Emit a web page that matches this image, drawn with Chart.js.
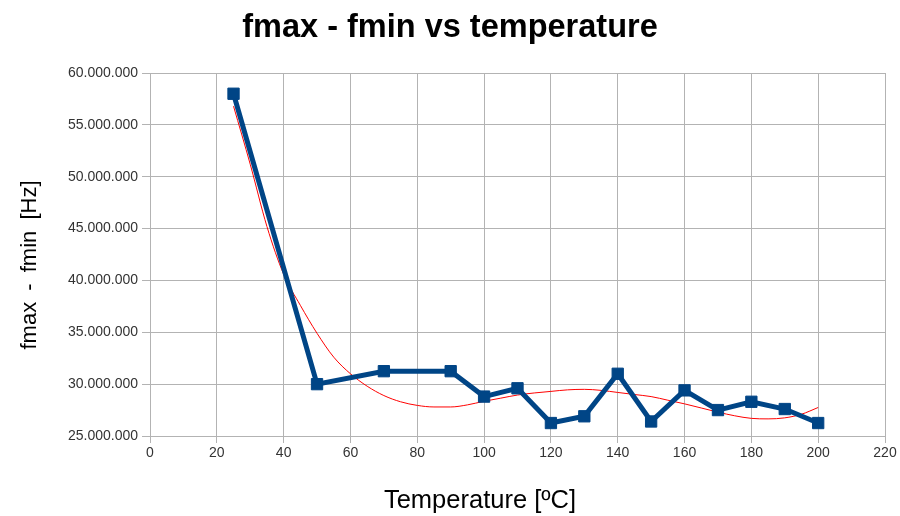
<!DOCTYPE html>
<html>
<head>
<meta charset="utf-8">
<script src="https://cdn.jsdelivr.net/npm/chart.js@4/dist/chart.umd.min.js"></script>
<style>
  html, body { margin: 0; padding: 0; background: #ffffff; }
  #wrap { width: 900px; height: 516px; }
</style>
</head>
<body>
<div id="wrap"><canvas id="c" width="900" height="516"></canvas></div>
<script>
// Measured series (temperature in °C, fmax - fmin in Hz)
const temperatures = [25, 50, 70, 90, 100, 110, 120, 130, 140, 150, 160, 170, 180, 190, 200];
const deltaF = [58000000, 30000000, 31250000, 31250000, 28800000, 29600000, 26250000, 26900000,
                31000000, 26400000, 29400000, 27500000, 28300000, 27600000, 26250000];

// Trend line (red)
const trendTemps = [25, 30, 35, 40, 45, 50, 55, 60, 65, 70, 75, 80, 85, 90, 95, 100, 105, 110, 115,
                    120, 125, 130, 135, 140, 145, 150, 155, 160, 165, 170, 175, 180, 185, 190, 195, 200];
const trendValues = [56800000, 51200000, 45200000, 40600000, 37600000, 34900000, 32600000, 31000000,
                     29800000, 28900000, 28300000, 27950000, 27800000, 27800000, 28000000, 28350000,
                     28650000, 28950000, 29150000, 29300000, 29450000, 29500000, 29400000, 29200000,
                     29000000, 28800000, 28450000, 28100000, 27700000, 27300000, 26950000, 26700000,
                     26650000, 26750000, 27100000, 27750000];

// Axis settings
const xTicks = { min: 0, max: 220, step: 20 };
const yTicks = { min: 25000000, max: 60000000, step: 5000000 };

const titleText = 'fmax - fmin vs temperature';
const xTitle = 'Temperature [ºC]';
const yTitle = 'fmax - fmin [Hz]';

function dotted(v) {
  const s = Math.round(v).toString();
  return s.replace(/\B(?=(\d{3})+(?!\d))/g, '.');
}

const mainPoints = temperatures.map((t, i) => ({ x: t, y: deltaF[i] }));
const trendPoints = trendTemps.map((t, i) => ({ x: t, y: trendValues[i] }));

const FONT = '"Liberation Sans", Arial, sans-serif';
const gridColor = '#b3b3b3';

// Axis titles placed as in the reference (centred on the whole drawing, not on the plot area)
const axisTitles = {
  id: 'axisTitles',
  afterDraw(chart) {
    const ctx = chart.ctx;
    ctx.save();
    ctx.fillStyle = '#000000';
    ctx.textAlign = 'center';
    ctx.textBaseline = 'alphabetic';
    ctx.font = '25.5px ' + FONT;
    ctx.fillText(xTitle, 480, 508);
    ctx.translate(36, 265);
    ctx.rotate(-Math.PI / 2);
    ctx.font = '22px ' + FONT;
    try { ctx.wordSpacing = '5px'; } catch (e) {}
    ctx.fillText(yTitle, 0, 0);
    ctx.restore();
  }
};

new Chart(document.getElementById('c'), {
  type: 'line',
  data: {
    datasets: [
      {
        label: 'trend',
        data: trendPoints,
        borderColor: '#ff0000',
        borderWidth: 1,
        pointRadius: 0,
        fill: false,
        cubicInterpolationMode: 'monotone',
        order: 2
      },
      {
        label: 'fmax - fmin',
        data: mainPoints,
        borderColor: '#004586',
        backgroundColor: '#004586',
        borderWidth: 5,
        pointStyle: 'rect',
        pointRadius: 8,
        pointBorderWidth: 1,
        pointBorderColor: '#004586',
        pointBackgroundColor: '#004586',
        tension: 0,
        fill: false,
        order: 1
      }
    ]
  },
  plugins: [axisTitles],
  options: {
    responsive: false,
    animation: false,
    devicePixelRatio: 1,
    layout: { padding: { left: 0, right: 0, top: 0, bottom: 0 } },
    plugins: {
      legend: { display: false },
      tooltip: { enabled: false },
      title: {
        display: true,
        text: titleText,
        color: '#000000',
        font: { family: FONT, size: 32.5, weight: 'bold' },
        padding: { top: 9, bottom: 25 }
      }
    },
    scales: {
      x: {
        type: 'linear',
        min: xTicks.min,
        max: xTicks.max,
        afterFit: (s) => { s.height = 80; },
        ticks: {
          stepSize: xTicks.step,
          color: '#333333',
          font: { family: FONT, size: 14 },
          padding: 2,
          maxRotation: 0
        },
        grid: { color: gridColor, lineWidth: 1, tickLength: 7 },
        border: { color: gridColor, width: 1 },
        title: { display: false }
      },
      y: {
        type: 'linear',
        min: yTicks.min,
        max: yTicks.max,
        afterFit: (s) => { s.width = 150; },
        ticks: {
          stepSize: yTicks.step,
          color: '#333333',
          font: { family: FONT, size: 14 },
          padding: 4,
          callback: (v) => dotted(v)
        },
        grid: { color: gridColor, lineWidth: 1, tickLength: 8 },
        border: { color: gridColor, width: 1 },
        title: { display: false }
      },
      rightSpace: {
        type: 'linear',
        position: 'right',
        display: true,
        afterFit: (s) => { s.width = 15; },
        ticks: { display: false },
        grid: { display: false, drawOnChartArea: false },
        border: { display: false },
        title: { display: false }
      }
    }
  }
});
</script>
</body>
</html>
